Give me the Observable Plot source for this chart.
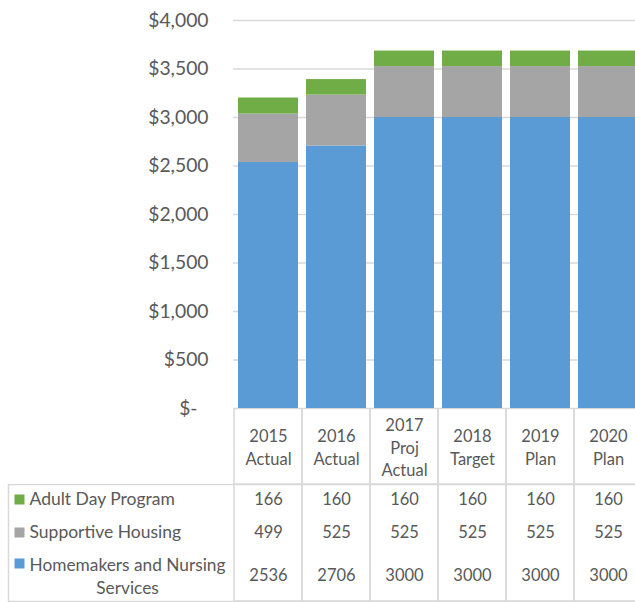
<!DOCTYPE html>
<html>
<head>
<meta charset="utf-8">
<script src="https://cdn.jsdelivr.net/npm/d3@7"></script>
<script src="https://cdn.jsdelivr.net/npm/@observablehq/plot@0.6"></script>
<style>
  html, body { margin: 0; padding: 0; background: white; }
  #wrap { position: relative; width: 635px; height: 602px; overflow: hidden; background: white; }
  #wrap > svg { position: absolute; left: 0; max-width: none !important; }
</style>
</head>
<body>
<div id="wrap"></div>
<script>
const categories = ["2015 Actual", "2016 Actual", "2017 Proj Actual", "2018 Target", "2019 Plan", "2020 Plan"];
const headerLabels = ["2015\nActual", "2016\nActual", "2017\nProj\nActual", "2018\nTarget", "2019\nPlan", "2020\nPlan"];
const homemakers = [2536, 2706, 3000, 3000, 3000, 3000];
const supportive = [499, 525, 525, 525, 525, 525];
const adultDay = [166, 160, 160, 160, 160, 160];
const seriesNames = ["Homemakers and Nursing Services", "Supportive Housing", "Adult Day Program"];
const seriesColors = ["#5B9BD5", "#A5A5A5", "#70AD47"];
const yTicks = [0, 500, 1000, 1500, 2000, 2500, 3000, 3500, 4000];

const seriesValues = [homemakers, supportive, adultDay];
const tidy = [];
seriesNames.forEach((s, si) => categories.forEach((c, ci) => tidy.push({series: s, category: c, value: seriesValues[si][ci]})));

const textColor = "#595959";
const lineColor = "#d9d9d9";
const font = "Lato, 'Open Sans', sans-serif";
const xRange = [233, 643.4];
const wrap = document.getElementById("wrap");

// Table header (year labels)
const header = Plot.plot({
  width: 645, height: 77,
  marginTop: 0, marginBottom: 1, marginLeft: 233, marginRight: 0,
  style: {fontFamily: font, background: "white", maxWidth: "none"},
  x: {domain: categories, range: xRange, padding: 0, axis: null},
  marks: [
    Plot.cell(categories, {x: d => d, fill: "none", stroke: lineColor, strokeWidth: 1.5}),
    Plot.text(categories, {x: d => d, text: (d, i) => headerLabels[i], frameAnchor: "middle",
      lineAnchor: "middle", fontSize: 16.5, lineHeight: 1.36, fill: textColor})
  ]
});
header.style.top = "408px";
wrap.appendChild(header);

// Table body (legend + values)
const rows = [
  {name: "Adult Day Program", values: adultDay, color: seriesColors[2], dy: 15, sdy: 15},
  {name: "Supportive Housing", values: supportive, color: seriesColors[1], dy: 48, sdy: 48},
  {name: "Homemakers and Nursing Services", values: homemakers, color: seriesColors[0], dy: 91, sdy: 79}
];
const bodyMarks = [
  Plot.frame({stroke: lineColor, strokeWidth: 1.5}),
  Plot.cell(categories, {x: d => d, fill: "none", stroke: lineColor, strokeWidth: 1.5})
];
rows.forEach(r => {
  bodyMarks.push(Plot.text(categories, {x: d => d, text: (d, i) => String(r.values[i]), frameAnchor: "top",
    lineAnchor: "middle", dy: r.dy, fontSize: 16.5, fill: textColor}));
  bodyMarks.push(Plot.dot([r.name], {frameAnchor: "top-left", dx: 11, dy: r.sdy, symbol: "square", r: 5.64,
    fill: r.color, stroke: null}));
});
bodyMarks.push(Plot.text([rows[0].name], {text: d => d, frameAnchor: "top-left", lineAnchor: "middle", dx: 21, dy: 15,
  textAnchor: "start", fontSize: 17.5, fill: textColor}));
bodyMarks.push(Plot.text([rows[1].name], {text: d => d, frameAnchor: "top-left", lineAnchor: "middle", dx: 21, dy: 48,
  textAnchor: "start", fontSize: 17.5, fill: textColor}));
bodyMarks.push(Plot.text(["Homemakers and Nursing\nServices"], {text: d => d, frameAnchor: "top-left", lineAnchor: "middle",
  dx: 119, dy: 90.5, textAnchor: "middle", fontSize: 17.3, lineHeight: 1.31, fill: textColor}));

const body = Plot.plot({
  width: 645, height: 118,
  marginTop: 0, marginBottom: 1, marginLeft: 8, marginRight: 0,
  style: {fontFamily: font, background: "white", maxWidth: "none"},
  x: {domain: categories, range: xRange, padding: 0, axis: null},
  marks: bodyMarks
});
body.style.top = "484px";
wrap.appendChild(body);

// Stacked bars
const chart = Plot.plot({
  width: 645, height: 420,
  marginTop: 20, marginBottom: 12, marginLeft: 233, marginRight: 0,
  style: {fontFamily: font, background: "transparent", overflow: "visible", maxWidth: "none"},
  x: {domain: categories, range: xRange, paddingInner: 0.125, paddingOuter: 0.0625, axis: null},
  y: {domain: [0, 4000], axis: null},
  color: {domain: seriesNames, range: seriesColors},
  marks: [
    Plot.ruleY(yTicks, {stroke: lineColor, strokeWidth: 1.5}),
    Plot.barY(tidy, {x: "category", y: "value", fill: "series"}),
    Plot.axisY(yTicks.filter(t => t > 0), {tickSize: 0, tickPadding: 25, tickFormat: d3.format("$,"),
      fontSize: 19.3, fill: textColor, label: null}),
    Plot.axisY([0], {tickSize: 0, tickPadding: 36, tickFormat: () => "$-", fontSize: 19.3, fill: textColor, label: null})
  ]
});
chart.style.top = "0px";
wrap.appendChild(chart);
</script>
</body>
</html>
